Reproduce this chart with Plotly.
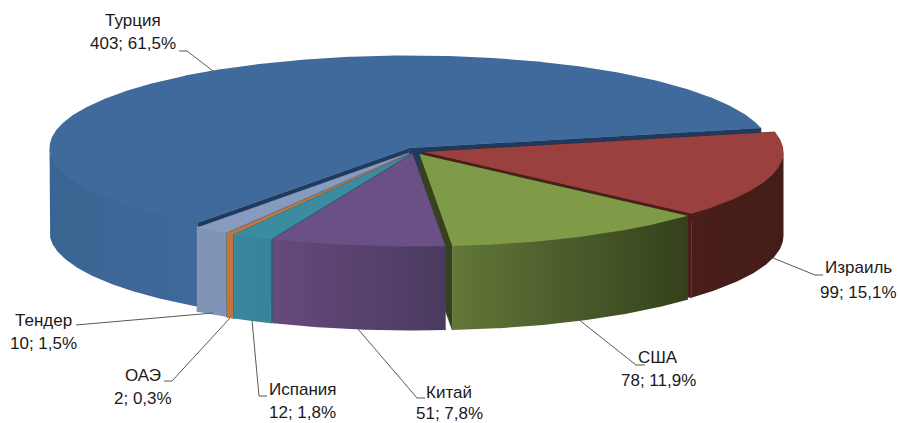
import math
import plotly.graph_objects as go

# ---- data ----
categories = ["Турция", "Израиль", "США", "Китай", "Испания", "ОАЭ", "Тендер"]
values = [403, 99, 78, 51, 12, 2, 10]

# ---- geometry and style (pixels of the 898x423 page) ----
START = 126.0
RX, RY, DEPTH = 360.0, 92.5, 84.0
centers = [(409.5, 148), (423.5, 152), (419.5, 154), (412.5, 154),
           (410.5, 154), (409.7, 154), (408.6, 153)]
top_colors = ["#3F6A9B", "#9A403E", "#7F9B48", "#6A5085", "#3B8CA1", "#C5793A", "#879BBF"]
wall_left = ["#3A6592", "#4A1E1A", "#627739", "#66497E", "#3A889D", "#C0763A", "#8094B8"]
wall_right = ["#40699A", "#431C18", "#34411C", "#4A3A5F", "#37839A", "#C0763A", "#8094B8"]
cut_colors = ["#1F3A5F", "#4A1E1A", "#36421C", "#4A3A5F", "#2C6A7C", "#9A5E2C", "#6A7C9A"]
label_pos = [((133, 20), (133, 43)), ((858, 267), (858, 292)), ((658, 357), (658, 380)),
             ((449, 392), (449, 413)), ((302, 389), (302, 412)), ((143, 375), (143, 398)),
             ((43, 320), (43, 343))]
leaders = [[(179, 51), (187, 51), (213, 71)],
           [(773, 258), (815, 275), (823, 275)],
           [(578, 319), (636, 365), (645, 365)],
           [(358, 329), (417, 398), (425, 398)],
           [(252, 320), (259, 396), (267, 396)],
           [(230, 318), (172, 381), (164, 381)],
           [(213, 313), (76, 325)]]
draw_order = [0, 1, 2, 6, 5, 4, 3]
FONT = "Liberation Sans"
SIZE = 17


def rim(c, t):
    a = math.radians(t)
    return c[0] + RX * math.cos(a), c[1] + RY * math.sin(a)


def poly(fig, pts, color, grad=None, edge=0):
    kw = dict(fillcolor=color) if grad is None else dict(
        fillgradient=dict(type="horizontal", colorscale=[[0, grad[0]], [1, grad[1]]]))
    fig.add_trace(go.Scatter(
        x=[p[0] for p in pts] + [pts[0][0]], y=[p[1] for p in pts] + [pts[0][1]],
        mode="lines", line=dict(width=edge, color=color), fill="toself",
        hoverinfo="skip", showlegend=False, **kw))


def steps(a, b):
    n = max(2, int(abs(b - a)) * 2)
    return [a + (b - a) * i / n for i in range(n + 1)]


fig = go.Figure()
total = sum(values)
spans = []
angle = START
for v in values:
    spans.append((angle, angle + v / total * 360))
    angle += v / total * 360

for i in draw_order:
    c = centers[i]
    t0, t1 = spans[i]
    # radial cut walls
    for t in (t0, t1):
        p = rim(c, t)
        poly(fig, [c, p, (p[0], p[1] + DEPTH), (c[0], c[1] + DEPTH)], cut_colors[i], edge=0.6)
    # outer wall: the part of the rim facing the viewer (tucked 1.5px under the top face)
    for k in (0, 360):
        lo, hi = max(t0, k), min(t1, k + 180)
        if hi > lo:
            arc = [rim(c, t) for t in steps(lo, hi)]
            poly(fig, [(x, y - 1.5) for x, y in arc] + [(x, y + DEPTH) for x, y in reversed(arc)],
                 wall_left[i], (wall_left[i], wall_right[i]))
    # top face
    poly(fig, [c] + [rim(c, t) for t in steps(t0, t1)], top_colors[i])

# leader lines
lx, ly = [], []
for seg in leaders:
    lx += [p[0] for p in seg] + [None]
    ly += [p[1] for p in seg] + [None]
fig.add_trace(go.Scatter(x=lx, y=ly, mode="lines", line=dict(color="#595959", width=1),
                         hoverinfo="skip", showlegend=False))

# labels
for name, v, (p1, p2) in zip(categories, values, label_pos):
    pct = f"{v / total * 100:.1f}".replace(".", ",")
    for pos, text in ((p1, name), (p2, f"{v}; {pct}%")):
        fig.add_annotation(x=pos[0], y=pos[1], text=text, showarrow=False,
                           xanchor="center", yanchor="middle",
                           font=dict(family=FONT, size=SIZE, color="#1A1A1A"))

fig.update_layout(
    width=898, height=423, margin=dict(l=0, r=0, t=0, b=0),
    paper_bgcolor="white", plot_bgcolor="white", showlegend=False,
    xaxis=dict(range=[0, 898], visible=False, fixedrange=True),
    yaxis=dict(range=[423, 0], visible=False, fixedrange=True),
)
fig.write_html("out.html", config=dict(displayModeBar=False),
               post_script="document.body.style.margin='0';document.documentElement.style.overflow='hidden';")
